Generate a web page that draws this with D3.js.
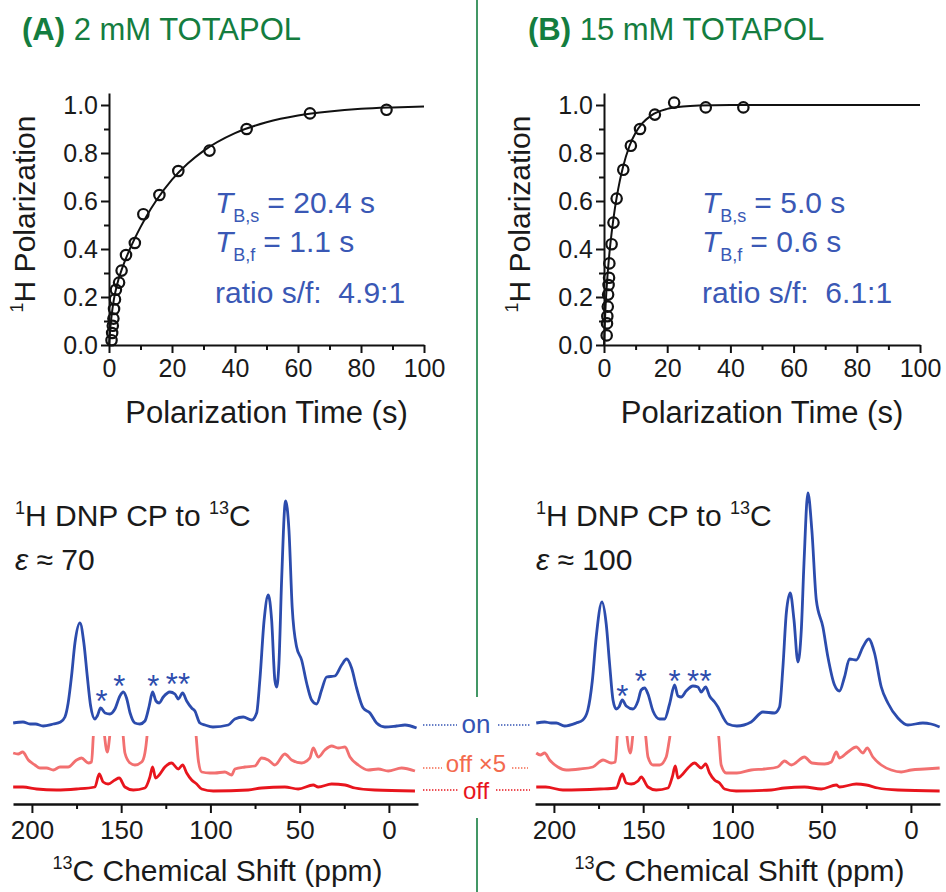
<!DOCTYPE html>
<html>
<head>
<meta charset="utf-8">
<script src="https://cdn.jsdelivr.net/npm/d3@7"></script>
<style>
body { margin: 0; background: #fff; }
svg { font-family: "Liberation Sans", Arial, Helvetica, sans-serif; }
</style>
</head>
<body>
<svg id="fig" width="946" height="892"></svg>
<script>
// ---- build-up data (top row) ----
const timeA = [0.8, 1.0, 1.2, 1.4, 1.6, 1.9, 2.2, 3.2, 4.0, 5.4, 8.2, 10.9, 16, 22, 31.9, 43.7, 63.8, 88.1];
const polA = [0.02, 0.05, 0.08, 0.11, 0.15, 0.19, 0.23, 0.26, 0.31, 0.375, 0.425, 0.545, 0.625, 0.725, 0.81, 0.90, 0.965, 0.98];
const fitTimeA = [0, 0.25, 0.5, 1, 1.5, 2, 3, 4, 6, 8, 10, 12, 15, 20, 25, 30, 40, 50, 60, 70, 80, 90, 100];
const fitPolA = [0, 0.045, 0.082, 0.141, 0.186, 0.220, 0.273, 0.313, 0.381, 0.439, 0.491, 0.539, 0.602, 0.689, 0.756, 0.809, 0.883, 0.928, 0.956, 0.973, 0.984, 0.990, 0.994];

const timeB = [0.85, 0.95, 1.05, 1.2, 1.3, 1.45, 1.6, 1.7, 2.4, 3.0, 4.0, 6.1, 8.5, 11.4, 16.1, 22.2, 32.2, 44.1];
const polB = [0.04, 0.09, 0.12, 0.16, 0.21, 0.25, 0.28, 0.34, 0.42, 0.51, 0.61, 0.73, 0.83, 0.90, 0.96, 1.01, 0.99, 0.99];
const fitTimeB = [0, 0.25, 0.5, 1, 1.5, 2, 3, 4, 5, 6, 8, 10, 12, 15, 20, 25, 30, 40, 100];
const fitPolB = [0, 0.090, 0.162, 0.270, 0.352, 0.419, 0.528, 0.614, 0.684, 0.741, 0.827, 0.884, 0.922, 0.957, 0.984, 0.994, 0.998, 1.0, 1.0];

const timeTicks = [0, 20, 40, 60, 80, 100], timeMinor = [10, 30, 50, 70, 90];
const polTicks = [0, 0.2, 0.4, 0.6, 0.8, 1.0], polMinor = [0.1, 0.3, 0.5, 0.7, 0.9];

// ---- 13C spectra (bottom row), [ppm, intensity] ----
const onA = [[210.5,1],[205,2],[201,0],[198,0],[193.7,-2],[188,0],[184,2],[181.5,7],[179.7,21],[177.8,48],[175.9,81],[173.1,101],[170.9,81],[169,48],[167.1,18],[164.7,5],[163.4,8],[161.5,16],[159,11],[156.3,10],[153.5,15],[150.7,28],[148.8,32],[147,26],[145,11],[142.3,1],[139.5,0],[136.7,3],[134.3,18],[132.4,32],[130.5,23],[128.7,21],[126.4,27],[122.7,32],[119.9,30],[118,25],[115.6,31],[113.3,23],[110.5,16],[108.7,13],[105.9,1],[103,-1],[98.6,-3],[90,-1],[86.3,5],[81.6,7],[76.9,4],[74.1,11],[72.3,44],[69.9,104],[67.6,129],[65.7,104],[63.9,44],[62.9,37],[61.6,61],[60.1,144],[57.9,223],[56,194],[54.2,117],[51.7,77],[48.9,64],[46.1,41],[43.3,24],[40.5,20],[37.7,34],[34.9,47],[30.3,48],[26.5,59],[23.7,65],[20.9,56],[18.1,36],[14.4,16],[10.6,11],[6.9,1],[2.2,-3],[-4.3,-2],[-9,-1],[-15.5,-4]];
const off5A = [[210.5,17],[207.7,16],[205.2,18],[202,10],[198.3,5],[195.5,2],[191.8,2],[188,0],[184.3,3],[179.7,3],[175,10],[172.2,12],[168.4,7],[166.6,8],[165.6,34],[164.5,60],[162.3,80],[160,45],[157.8,18],[155.5,45],[153.5,50],[151,58],[149.2,40],[147.9,17],[145,7],[142.3,5],[138.5,8],[136.7,17],[135.2,40],[134,70],[132.4,116],[130.7,58],[128.7,75],[125.5,116],[121.8,133],[118,103],[115.6,125],[113.3,83],[110.5,50],[108.4,40],[106.8,10],[104.9,-2],[100.3,-3],[97.5,-3],[91.9,-2],[88.1,-5],[86.3,1],[80.7,3],[75.1,4],[71.3,12],[67.6,10],[63.9,5],[58.3,16],[54.5,10],[48.9,7],[44.3,12],[42.4,22],[39.6,13],[35.9,20],[32.1,24],[28.4,22],[24.6,23],[21.8,13],[17.2,5],[11.6,0],[6,1],[0.4,-1],[-7.1,2],[-14.6,-1]];
const offA = [[210.5,3],[205,3],[197.4,1],[186.2,0],[175,1],[164.7,3],[162.3,16],[160.1,8],[157.3,6],[153.5,10],[151.1,12],[147.9,3],[143.2,0],[136.7,2],[133.9,13],[132.4,23],[130.7,12],[128.7,15],[125.5,23],[121.8,27],[118,21],[115.6,25],[113.3,17],[110.5,10],[107.7,6],[104.9,1],[98.4,-1],[78.8,0],[71.3,2],[58.3,3],[50.8,1],[42.4,5],[39.6,3],[32.1,6],[24.6,5],[19,2],[7.9,0],[-14.6,-1]];

const onB = [[209.9,1],[205.2,2],[201.5,1],[198.7,1],[194,-2],[187.5,1],[183.8,4],[181,14],[178.5,43],[176.3,87],[173.1,122],[170.7,100],[168.8,60],[166.9,24],[165.1,15],[163.6,17],[161.7,24],[159.5,18],[155.7,15],[152.9,23],[151.1,34],[149.2,36],[147.3,30],[144.5,13],[140.8,5],[138,5],[135.2,20],[132.4,39],[130.5,28],[128.7,27],[125.9,33],[122.1,38],[119.3,37],[117.5,32],[115,37],[112.8,28],[110,22],[108.1,17],[105.3,7],[102.5,0],[97.5,-2],[89.5,2],[82.9,12],[76.4,11],[73.6,17],[71.7,57],[69.8,111],[67.6,131],[65.5,104],[63.3,62],[61.4,94],[59.9,161],[57.7,231],[55.5,194],[53,124],[49.3,97],[46.5,67],[42.8,39],[40,33],[37.2,47],[34.4,65],[30.6,64],[26.9,77],[23.7,85],[20.4,71],[16.6,37],[12.9,21],[7.3,6],[1.7,-1],[-6.7,1],[-11.3,0],[-16.1,-3]];
const off5B = [[209.9,17],[207.6,15],[205.2,17],[202.4,10],[197.8,3],[193.1,0],[185.6,1],[178.2,3],[172.5,10],[167.9,7],[165.6,8],[164.5,34],[163,60],[161.7,80],[159.8,45],[157.2,17],[155,45],[152.9,50],[151.1,63],[149.5,45],[148.6,34],[147.3,13],[144.5,5],[140.8,5],[137.1,13],[135.8,25],[134.6,40],[132,120],[130.5,58],[128.3,75],[124.9,108],[121.2,136],[117.5,108],[115,128],[112.8,83],[110,50],[108.3,40],[107.7,34],[106.3,5],[103.5,-3],[97.5,-3],[89.5,0],[82,1],[74.7,3],[70.8,9],[67,5],[59.6,13],[55.5,7],[48.4,6],[44.6,8],[41.8,18],[40,12],[35.3,18],[30.6,23],[26.9,17],[24.5,22],[21.3,13],[16.6,5],[11,0],[5.4,-2],[-0.2,0],[-7.7,1],[-16.1,2]];
const offB = [[209.9,3],[204.6,3],[195,0],[174.4,1],[165.1,2],[161.7,16],[159.5,7],[156.7,6],[152.9,9],[151.1,13],[147.3,3],[142.7,0],[136.1,2],[133.7,13],[132,24],[130.5,12],[128.3,15],[124.9,22],[121.2,27],[117.5,22],[115,26],[112.8,17],[110,10],[107.2,7],[104.4,1],[97.9,-1],[78.2,0],[70.8,2],[59.6,3],[50.2,1],[41.8,5],[40,3],[30.6,6],[25,5],[18.5,2],[7.3,0],[-16.1,-1]];

const starsA = [[161,29],[151,44],[132,44],[121.7,46],[114.8,46]];
const starsB = [[161.7,34],[151.4,49],[132.4,49],[122.1,49],[115,49]];

const ppmTicks = [200, 150, 100, 50, 0], ppmMinor = [175, 125, 75, 25];
const traceNames = ["on", "off \u00d75", "off"];
const traceOffsets = [0, -46, -66];

const green = "#147d3f", blue = "#2c4cad", textBlue = "#3a58b5";
const traceColors = [blue, "#f27070", "#e8151d"];
const labelColors = ["#3454b4", "#f36a4e", "#e8151d"];

const svg = d3.select("#fig");

function styleAxis(sel, size){
    sel.select(".domain").attr("stroke", "#111").attr("stroke-width", 2);
    sel.selectAll(".tick line").attr("stroke", "#111").attr("stroke-width", 2);
    sel.selectAll(".tick text").attr("font-size", size).attr("fill", "#1a1a1a")
        .style("font-family", "'Liberation Sans', Arial, sans-serif");
}

// ---- top row: build-up curves ----
function buildup(opt){
    const x = d3.scaleLinear().domain([0, 100]).range(opt.xr);
    const y = d3.scaleLinear().domain([0, 1.05]).range([345, 93]);
    const g = svg.append("g");

    g.append("g").attr("transform", "translate(0," + y(0) + ")")
        .call(d3.axisBottom(x).tickValues(timeMinor).tickSize(5).tickFormat(""))
        .call(s => { styleAxis(s, 25); s.select(".domain").remove(); });
    g.append("g").attr("transform", "translate(0," + y(0) + ")")
        .call(d3.axisBottom(x).tickValues(timeTicks).tickSize(8).tickSizeOuter(0).tickPadding(6))
        .call(s => styleAxis(s, 25));

    g.append("g").attr("transform", "translate(" + opt.xr[0] + ",0)")
        .call(d3.axisLeft(y).tickValues(polMinor).tickSize(5).tickFormat(""))
        .call(s => { styleAxis(s, 25); s.select(".domain").remove(); });
    g.append("g").attr("transform", "translate(" + opt.xr[0] + ",0)")
        .call(d3.axisLeft(y).tickValues(polTicks).tickSize(8).tickSizeOuter(0).tickPadding(3).tickFormat(d3.format(".1f")))
        .call(s => styleAxis(s, 25));

    const line = d3.line().x(d => x(d[0])).y(d => y(d[1])).curve(d3.curveMonotoneX);
    g.append("path").datum(d3.zip(opt.fitT, opt.fitP))
        .attr("d", line).attr("fill", "none").attr("stroke", "#111").attr("stroke-width", 2);

    g.selectAll("circle.pt").data(d3.zip(opt.t, opt.p)).enter().append("circle")
        .attr("class", "pt")
        .attr("cx", d => x(d[0])).attr("cy", d => y(d[1])).attr("r", 5.2)
        .attr("fill", "none").attr("stroke", "#111").attr("stroke-width", 2.2);

    // axis titles
    const yt = g.append("text").attr("transform", "translate(" + opt.ytx + ",214) rotate(-90)")
        .attr("text-anchor", "middle").attr("font-size", 30).attr("fill", "#1a1a1a");
    yt.append("tspan").attr("font-size", 18).attr("dy", -12).text("1");
    yt.append("tspan").attr("dy", 12).text("H Polarization");

    g.append("text").attr("x", (opt.xr[0] + opt.xr[1]) / 2).attr("y", 423)
        .attr("text-anchor", "middle").attr("font-size", 31).attr("fill", "#1a1a1a")
        .text("Polarization Time (s)");

    // fit parameters
    const lines = [["B,s", opt.ts], ["B,f", opt.tf]];
    lines.forEach((l, i) => {
        const t = g.append("text").attr("x", opt.tx).attr("y", 213 + i * 39)
            .attr("font-size", 30).attr("fill", textBlue);
        t.append("tspan").attr("font-style", "italic").text("T");
        t.append("tspan").attr("font-size", 18).attr("dy", 9).text(l[0]);
        t.append("tspan").attr("dy", -9).attr("dx", 8).text("= " + l[1] + " s");
    });
    g.append("text").attr("x", opt.tx).attr("y", 303).attr("font-size", 30).attr("fill", textBlue)
        .attr("xml:space", "preserve").text("ratio s/f:  " + opt.ratio);

    // panel title
    const ti = g.append("text").attr("x", opt.titleX).attr("y", 40).attr("font-size", 31).attr("fill", green);
    ti.append("tspan").attr("font-weight", "bold").text(opt.letter);
    ti.append("tspan").text(" " + opt.title);
}

buildup({xr: [109, 424], t: timeA, p: polA, fitT: fitTimeA, fitP: fitPolA, ytx: 35, tx: 215,
    ts: "20.4", tf: "1.1", ratio: "4.9:1", titleX: 22, letter: "(A)", title: "2 mM TOTAPOL"});
buildup({xr: [604, 920], t: timeB, p: polB, fitT: fitTimeB, fitP: fitPolB, ytx: 530, tx: 702,
    ts: "5.0", tf: "0.6", ratio: "6.1:1", titleX: 528, letter: "(B)", title: "15 mM TOTAPOL"});

// ---- bottom row: spectra ----
function spectra(opt){
    const x = d3.scaleLinear().domain([210.6, -16.3]).range(opt.xr);
    const y = d3.scaleLinear().domain([0, 224]).range([724, 500]);
    const g = svg.append("g");

    const clipId = "clip" + opt.id;
    svg.append("clipPath").attr("id", clipId).append("rect")
        .attr("x", opt.xr[0] - 5).attr("y", 736).attr("width", opt.xr[1] - opt.xr[0] + 10).attr("height", 70);

    const line = off => d3.line().x(d => x(d[0])).y(d => y(d[1] + off)).curve(d3.curveMonotoneX);
    opt.traces.forEach((tr, i) => {
        const p = g.append("path").datum(tr).attr("d", line(traceOffsets[i]))
            .attr("fill", "none").attr("stroke", traceColors[i]).attr("stroke-width", 2.8)
            .attr("stroke-linejoin", "round");
        if (i === 1) p.attr("clip-path", "url(#" + clipId + ")");
    });

    g.selectAll("text.star").data(opt.stars).enter().append("text")
        .attr("class", "star").attr("x", d => x(d[0])).attr("y", d => y(d[1]) + 17)
        .attr("text-anchor", "middle").attr("font-size", 31).attr("fill", blue).text("*");

    g.append("g").attr("transform", "translate(0,804)")
        .call(d3.axisBottom(x).tickValues(ppmMinor).tickSize(5).tickFormat(""))
        .call(s => { styleAxis(s, 26); s.select(".domain").remove(); });
    g.append("g").attr("transform", "translate(0,804)")
        .call(d3.axisBottom(x).tickValues(ppmTicks).tickSize(9).tickSizeOuter(0).tickPadding(8))
        .call(s => { styleAxis(s, 26); s.select(".domain").attr("stroke-width", 2.6); });

    const xt = g.append("text").attr("x", (opt.xr[0] + opt.xr[1]) / 2 + 2).attr("y", 881)
        .attr("text-anchor", "middle").attr("font-size", 30).attr("fill", "#1a1a1a");
    xt.append("tspan").attr("font-size", 18).attr("dy", -12).text("13");
    xt.append("tspan").attr("dy", 12).text("C Chemical Shift (ppm)");

    const h = g.append("text").attr("x", opt.lx).attr("y", 526).attr("font-size", 30).attr("fill", "#1a1a1a");
    h.append("tspan").attr("font-size", 18).attr("dy", -12).text("1");
    h.append("tspan").attr("dy", 12).text("H DNP CP to ");
    h.append("tspan").attr("font-size", 18).attr("dy", -12).text("13");
    h.append("tspan").attr("dy", 12).text("C");

    const e = g.append("text").attr("x", opt.lx).attr("y", 570).attr("font-size", 30).attr("fill", "#1a1a1a");
    e.append("tspan").attr("font-style", "italic").text("\u03b5");
    e.append("tspan").text(" \u2248 " + opt.eps);
}

spectra({id: "A", xr: [13, 418], traces: [onA, off5A, offA], stars: starsA, lx: 15, eps: "70"});
spectra({id: "B", xr: [535, 940], traces: [onB, off5B, offB], stars: starsB, lx: 536, eps: "100"});

// ---- trace labels between the panels ----
const labelY = [733, 772, 799];
const labelSize = [26, 24, 24];
const dotY = [725, 768, 790];
const dotSpans = [[[423, 457], [498, 530]], [[423, 442], [512, 528]], [[423, 459], [496, 530]]];
traceNames.forEach((n, i) => {
    svg.append("text").attr("x", 476).attr("y", labelY[i]).attr("text-anchor", "middle")
        .attr("font-size", labelSize[i]).attr("fill", labelColors[i]).text(n);
    dotSpans[i].forEach(s => {
        svg.append("line").attr("x1", s[0]).attr("x2", s[1]).attr("y1", dotY[i]).attr("y2", dotY[i])
            .attr("stroke", labelColors[i]).attr("stroke-width", 1.6).attr("stroke-dasharray", "1.4,1.6");
    });
});

// divider
[[0, 697], [818, 892]].forEach(s => {
    svg.append("line").attr("x1", 477).attr("x2", 477).attr("y1", s[0]).attr("y2", s[1])
        .attr("stroke", green).attr("stroke-width", 1.6);
});
</script>
</body>
</html>
